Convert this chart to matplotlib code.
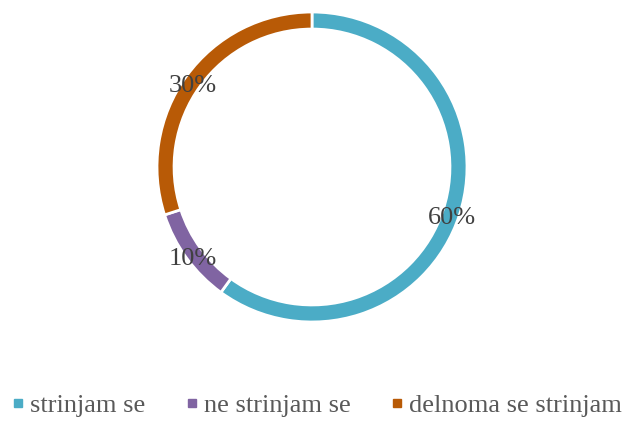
import matplotlib
matplotlib.use("Agg")
import matplotlib.pyplot as plt
from matplotlib.lines import Line2D

plt.rcParams["font.family"] = ["Liberation Serif", "DejaVu Serif"]

labels = ["strinjam se", "ne strinjam se", "delnoma se strinjam"]
values = [60, 10, 30]
colors = ["#4BACC6", "#8064A2", "#B85A06"]

W, H = 625, 422
fig = plt.figure(figsize=(W / 100, H / 100), dpi=100)
ax = fig.add_axes([157 / W, 100 / H, 310 / W, 310 / H])

wedges, texts, autotexts = ax.pie(
    values,
    colors=colors,
    startangle=90,
    counterclock=False,
    radius=1.0,
    autopct="%d%%",
    pctdistance=0.95,
    wedgeprops={"width": 0.11, "edgecolor": "white", "linewidth": 2},
    textprops={"fontsize": 19, "color": "#404040"},
)
# nudge percentage labels slightly down, as in the original
for t in autotexts:
    x, y = t.get_position()
    t.set_position((x, y - 0.035))

ax.set_xlim(-1, 1)
ax.set_ylim(-1, 1)
ax.set_aspect("equal")
ax.axis("off")

handles = [
    Line2D([], [], marker="s", linestyle="none", markersize=6,
           markerfacecolor=c, markeredgecolor=c)
    for c in colors
]
fig.legend(
    handles, labels,
    loc="center", bbox_to_anchor=(317 / W, 1 - 405 / H),
    ncol=3, frameon=False, fontsize=19,
    labelcolor="#595959", handlelength=0.45, handletextpad=0.25,
    columnspacing=1.52, borderaxespad=0, borderpad=0,
)

fig.savefig("out.png", dpi=100)
